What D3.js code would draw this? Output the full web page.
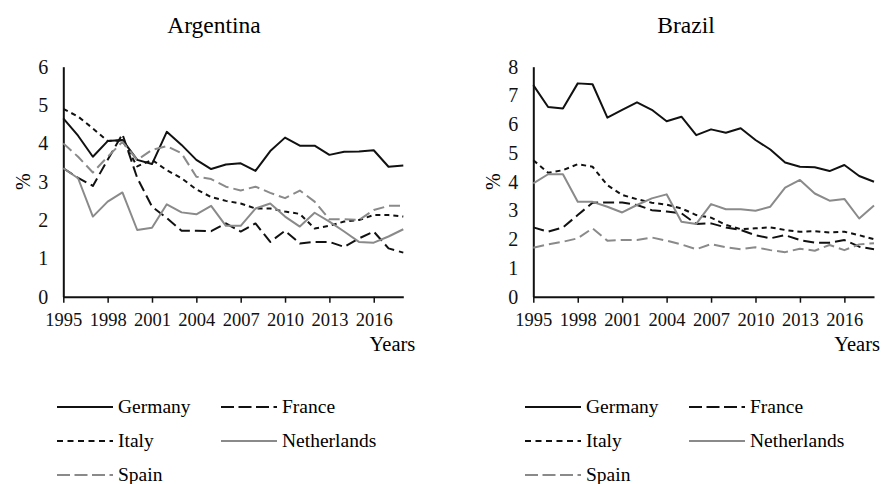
<!DOCTYPE html>
<html>
<head>
<meta charset="utf-8">
<script src="https://cdn.jsdelivr.net/npm/d3@7"></script>
<style>
  html, body { margin: 0; padding: 0; background: #fff; }
  svg { display: block; font-family: "Liberation Serif", "Times New Roman", serif; }
</style>
</head>
<body>
<svg id="chart" width="882" height="484"></svg>
<script>
// ── Data ─────────────────────────────────────────────────────────────────
const years = d3.range(1995, 2019);
const yearTicks = [1995, 1998, 2001, 2004, 2007, 2010, 2013, 2016];
const countries = ['Germany', 'France', 'Italy', 'Netherlands', 'Spain'];

const argGermany     = [4.65, 4.2, 3.65, 4.06, 4.09, 3.57, 3.46, 4.3, 3.96, 3.57, 3.33, 3.45, 3.48, 3.28, 3.8, 4.15, 3.94, 3.94, 3.7, 3.78, 3.79, 3.82, 3.39, 3.42];
const argFrance      = [3.35, 3.1, 2.89, 3.57, 4.24, 3.1, 2.35, 2.05, 1.72, 1.72, 1.71, 1.91, 1.7, 1.91, 1.43, 1.72, 1.39, 1.43, 1.43, 1.3, 1.52, 1.7, 1.26, 1.15];
const argItaly       = [4.9, 4.7, 4.39, 4.06, 4.08, 3.4, 3.57, 3.3, 3.09, 2.8, 2.6, 2.5, 2.43, 2.3, 2.3, 2.22, 2.16, 1.78, 1.85, 1.96, 2.0, 2.13, 2.13, 2.09];
const argNetherlands = [3.35, 3.09, 2.09, 2.48, 2.72, 1.74, 1.8, 2.41, 2.2, 2.15, 2.37, 1.85, 1.85, 2.3, 2.43, 2.09, 1.83, 2.19, 1.96, 1.7, 1.43, 1.41, 1.57, 1.76];
const argSpain       = [4.0, 3.65, 3.24, 3.65, 4.04, 3.57, 3.83, 3.93, 3.74, 3.13, 3.07, 2.87, 2.77, 2.87, 2.71, 2.57, 2.77, 2.48, 2.02, 2.02, 2.0, 2.26, 2.37, 2.37];

const braGermany     = [7.36, 6.6, 6.55, 7.42, 7.39, 6.23, 6.5, 6.76, 6.5, 6.1, 6.26, 5.62, 5.82, 5.7, 5.86, 5.45, 5.12, 4.67, 4.52, 4.5, 4.37, 4.58, 4.2, 4.0];
const braFrance      = [2.41, 2.26, 2.41, 2.84, 3.27, 3.28, 3.28, 3.19, 3.01, 2.96, 2.9, 2.53, 2.55, 2.41, 2.32, 2.14, 2.03, 2.14, 1.97, 1.88, 1.88, 1.97, 1.74, 1.65];
const braItaly       = [4.75, 4.31, 4.4, 4.61, 4.52, 3.88, 3.54, 3.39, 3.27, 3.2, 3.07, 2.84, 2.75, 2.5, 2.35, 2.38, 2.41, 2.32, 2.26, 2.28, 2.23, 2.26, 2.14, 2.0];
const braNetherlands = [3.94, 4.26, 4.26, 3.3, 3.3, 3.13, 2.93, 3.19, 3.42, 3.56, 2.61, 2.53, 3.22, 3.04, 3.04, 2.99, 3.13, 3.79, 4.06, 3.59, 3.34, 3.4, 2.72, 3.17];
const braSpain       = [1.7, 1.82, 1.91, 2.03, 2.38, 1.95, 1.97, 1.97, 2.06, 1.95, 1.82, 1.65, 1.83, 1.72, 1.65, 1.72, 1.62, 1.55, 1.67, 1.6, 1.8, 1.62, 1.82, 1.86];

// line styles per country
const STYLES = {
  Germany:     { stroke: '#111', dash: null,   legendDash: null },
  France:      { stroke: '#111', dash: '11,5', legendDash: '13,4.5' },
  Italy:       { stroke: '#111', dash: '5,4',  legendDash: '6,4.5' },
  Netherlands: { stroke: '#8a8a8a', dash: null,   legendDash: null },
  Spain:       { stroke: '#8a8a8a', dash: '11,5', legendDash: '13,4.5' },
};

const svg = d3.select('#chart');

function drawPanel(opts) {
  const x = d3.scaleLinear().domain([1995, 2018]).range([opts.x0, opts.x1]);
  const y = d3.scaleLinear().domain([0, opts.yMax]).range([296.7, 66.7]);
  const g = svg.append('g');

  // title
  g.append('text')
    .attr('x', opts.titleX).attr('y', 33)
    .attr('text-anchor', 'middle')
    .style('font-size', '23.5px')
    .text(opts.title);

  // y axis: line only, no ticks
  const yAxis = g.append('g')
    .attr('transform', `translate(${opts.x0},0)`)
    .call(d3.axisLeft(y).ticks(opts.yMax).tickSize(0).tickPadding(15).tickFormat(d3.format('d')));
  yAxis.select('.domain').attr('stroke', '#111').attr('stroke-width', 2);
  yAxis.selectAll('text').style('font-size', '20px').style('font-family', 'Liberation Serif').attr('fill', '#111');

  // x axis
  const xAxis = g.append('g')
    .attr('transform', `translate(0,${y(0)})`)
    .call(d3.axisBottom(x).tickValues(yearTicks).tickSize(6).tickSizeOuter(0).tickPadding(10).tickFormat(d3.format('d')));
  xAxis.select('.domain').attr('stroke', '#111').attr('stroke-width', 2);
  xAxis.selectAll('.tick line').attr('stroke', '#111').attr('stroke-width', 1.5);
  xAxis.selectAll('text').style('font-size', '18.5px').style('font-family', 'Liberation Serif').attr('fill', '#111');

  // axis titles
  g.append('text')
    .attr('transform', `translate(${opts.x0 - 40},${(y(0) + y(opts.yMax)) / 2}) rotate(-90)`)
    .attr('text-anchor', 'middle')
    .attr('dy', '0.35em')
    .style('font-size', '20px')
    .text('%');

  g.append('text')
    .attr('x', opts.x1 + opts.yearsDx).attr('y', 351)
    .attr('text-anchor', 'end')
    .style('font-size', '20.5px')
    .text('Years');

  // series
  const line = d3.line()
    .x((d, i) => x(years[i]))
    .y(d => y(d));

  countries.forEach(c => {
    const st = STYLES[c];
    g.append('path')
      .datum(opts.series[c])
      .attr('fill', 'none')
      .attr('stroke', st.stroke)
      .attr('stroke-width', 2)
      .attr('stroke-linejoin', 'round')
      .attr('stroke-dasharray', st.dash)
      .attr('d', line);
  });

  // legend
  const rows = [407, 441, 475];
  const lg = g.append('g').attr('transform', `translate(${opts.legendX},0)`);
  countries.forEach((c, i) => {
    const st = STYLES[c];
    const lx = (i % 2) * 164;
    const ly = rows[Math.floor(i / 2)];
    lg.append('line')
      .attr('x1', lx).attr('x2', lx + 56)
      .attr('y1', ly).attr('y2', ly)
      .attr('stroke', st.stroke)
      .attr('stroke-width', 2)
      .attr('stroke-dasharray', st.legendDash);
    lg.append('text')
      .attr('x', lx + 61).attr('y', ly + 6)
      .style('font-size', '19.5px')
      .text(c);
  });
}

drawPanel({
  title: 'Argentina', titleX: 214, x0: 63.3, x1: 403.3, yMax: 6, yearsDx: 12, legendX: 57,
  series: { Germany: argGermany, France: argFrance, Italy: argItaly, Netherlands: argNetherlands, Spain: argSpain },
});

drawPanel({
  title: 'Brazil', titleX: 686, x0: 533.3, x1: 874, yMax: 8, yearsDx: 6, legendX: 525,
  series: { Germany: braGermany, France: braFrance, Italy: braItaly, Netherlands: braNetherlands, Spain: braSpain },
});
</script>
</body>
</html>
